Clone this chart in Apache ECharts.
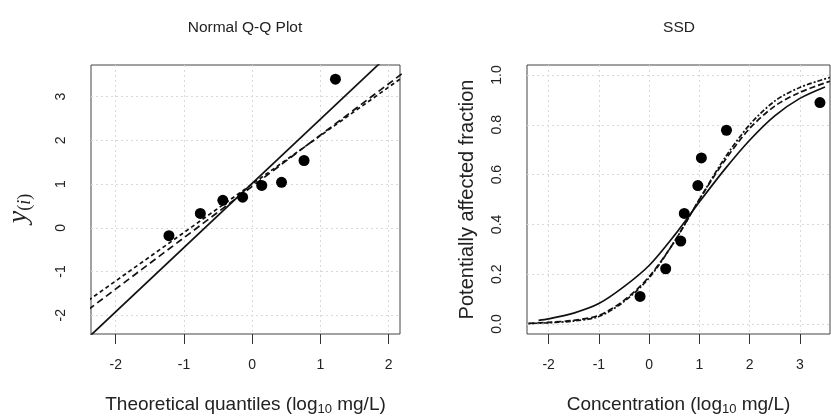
<!DOCTYPE html>
<html>
<head>
    <meta charset="UTF-8">
    <title>Q-Q and SSD</title>
    <script src="https://cdn.jsdelivr.net/npm/echarts/dist/echarts.min.js"></script>
    <style>
        html, body { margin: 0; padding: 0; background: #fff; }
        #chart { width: 831px; height: 417px; }
    </style>
</head>
<body>
<div id="chart"></div>
<script>
    // Q-Q panel data
    var theoQuantiles = [-1.22, -0.76, -0.43, -0.14, 0.14, 0.43, 0.76, 1.22];
    var observed = [-0.18, 0.33, 0.63, 0.70, 0.97, 1.04, 1.54, 3.40];
    // fitted lines, read at the two ends of the panel
    var lineEndsX = [-2.4, 2.2];
    var solidLineY = [-2.51, 4.25];
    var longDashLineY = [-1.87, 3.53];
    var shortDashLineY = [-1.66, 3.44];

    // SSD panel data
    var fraction = [0.111, 0.222, 0.333, 0.444, 0.556, 0.667, 0.778, 0.889];
    var solidCurveX = [-2.2, -2, -1.5, -1, -0.5, 0, 0.5, 1, 1.5, 2, 2.5, 3, 3.5];
    var solidCurveY = [0.015, 0.021, 0.044, 0.082, 0.15, 0.235, 0.355, 0.49, 0.62, 0.738, 0.836, 0.906, 0.952];
    var dashCurveX = [-2.4, -2, -1.5, -1, -0.5, 0, 0.5, 1, 1.5, 2, 2.5, 3, 3.6];
    var longDashCurveY = [0.003, 0.007, 0.015, 0.035, 0.095, 0.19, 0.33, 0.5, 0.655, 0.785, 0.875, 0.93, 0.975];
    var shortDashCurveY = [0.002, 0.005, 0.012, 0.03, 0.09, 0.185, 0.33, 0.5, 0.665, 0.8, 0.895, 0.95, 0.99];

    // tick labels
    var qqXTicks = [-2, -1, 0, 1, 2];
    var qqYTicks = [-2, -1, 0, 1, 2, 3];
    var ssdXTicks = [-2, -1, 0, 1, 2, 3];
    var ssdYTicks = [0, 0.2, 0.4, 0.6, 0.8, 1.0];

    function zip(xs, ys) {
        return xs.map(function (x, i) { return [x, ys[i]]; });
    }

    var FONT = 'Liberation Sans';
    var TXT = '#222';
    var gridLine = { show: true, lineStyle: { color: '#d9d9d9', type: [2, 3], width: 1 } };

    function xAxis(idx, min, max, ticks, name) {
        return {
            type: 'value', gridIndex: idx, min: min, max: max,
            axisLine: { show: false, onZero: false },
            axisTick: { show: true, length: 10, customValues: ticks, lineStyle: { color: '#333' } },
            axisLabel: { customValues: ticks, margin: 24, fontSize: 14, color: TXT, fontFamily: FONT },
            splitLine: gridLine,
            name: name, nameLocation: 'middle', nameGap: 60,
            nameTextStyle: {
                rich: {
                    n: { fontSize: 19, color: TXT, fontFamily: FONT, lineHeight: 22 },
                    s: { fontSize: 13, color: TXT, fontFamily: FONT, padding: [9, 0, 0, 0] }
                }
            }
        };
    }

    function yAxis(idx, min, max, ticks, fmt, name, gap, rich, pad) {
        return {
            type: 'value', gridIndex: idx, min: min, max: max,
            axisLine: { show: false, onZero: false },
            axisTick: { show: false, customValues: ticks },
            axisLabel: { customValues: ticks, rotate: 90, margin: 23, fontSize: 14, color: TXT, fontFamily: FONT, formatter: fmt },
            splitLine: gridLine,
            name: name, nameLocation: 'middle', nameRotate: 90, nameGap: gap,
            nameTextStyle: { rich: rich, padding: pad }
        };
    }

    function lineSeries(xi, data, dash, smooth) {
        return {
            type: 'line', xAxisIndex: xi, yAxisIndex: xi, data: data,
            showSymbol: false, smooth: smooth, clip: true,
            lineStyle: { color: '#111', width: 1.7, type: dash },
            silent: true, z: 3
        };
    }

    function pointSeries(xi, data) {
        return {
            type: 'scatter', xAxisIndex: xi, yAxisIndex: xi, data: data,
            symbol: 'circle', symbolSize: 11,
            itemStyle: { color: '#000', opacity: 1 }, z: 4
        };
    }

    var chart = echarts.init(document.getElementById('chart'), null, { renderer: 'canvas' });

    var titleStyle = { fontSize: 15.5, fontWeight: 'normal', color: TXT, fontFamily: FONT };

    var option = {
        animation: false,
        backgroundColor: '#fff',
        title: [
            { text: 'Normal Q-Q Plot', left: 245, top: 20, textAlign: 'center', padding: 0, textStyle: titleStyle },
            { text: 'SSD', left: 679, top: 20, textAlign: 'center', padding: 0, textStyle: titleStyle }
        ],
        grid: [
            { left: 91, right: 431, top: 65, bottom: 83, show: true, borderColor: '#444', borderWidth: 1,
              containLabel: false, outerBoundsMode: 'none' },
            { left: 527, right: 1, top: 65, bottom: 83, show: true, borderColor: '#444', borderWidth: 1,
              containLabel: false, outerBoundsMode: 'none' }
        ],
        xAxis: [
            xAxis(0, -2.362, 2.166, qqXTicks, '{n|Theoretical quantiles (log}{s|10}{n| mg/L)}'),
            xAxis(1, -2.43, 3.6, ssdXTicks, '{n|Concentration (log}{s|10}{n| mg/L)}')
        ],
        yAxis: [
            yAxis(0, -2.43, 3.725, qqYTicks, function (v) { return String(v); },
                '{y|y}{p|(}{i|i}{p|)}', 57, {
                    y: { fontSize: 28, fontStyle: 'italic', fontFamily: 'Liberation Serif', color: TXT },
                    p: { fontSize: 18, fontFamily: 'Liberation Serif', color: TXT, padding: [12, 0, 0, 0] },
                    i: { fontSize: 18, fontStyle: 'italic', fontFamily: 'Liberation Serif', color: TXT, padding: [12, 0, 0, 0] }
                }, [0, 18, 0, 0]),
            yAxis(1, -0.04, 1.04, ssdYTicks, function (v) { return v.toFixed(1); },
                '{n|Potentially affected fraction}', 50, {
                    n: { fontSize: 20, fontFamily: FONT, color: TXT }
                }, 0)
        ],
        series: [
            lineSeries(0, zip(lineEndsX, solidLineY), 'solid', false),
            lineSeries(0, zip(lineEndsX, longDashLineY), [7, 4], false),
            lineSeries(0, zip(lineEndsX, shortDashLineY), [4, 3], false),
            pointSeries(0, zip(theoQuantiles, observed)),
            lineSeries(1, zip(solidCurveX, solidCurveY), 'solid', 0.3),
            lineSeries(1, zip(dashCurveX, longDashCurveY), [6, 3], 0.3),
            lineSeries(1, zip(dashCurveX, shortDashCurveY), [2, 2, 5, 2], 0.3),
            pointSeries(1, zip(observed, fraction))
        ]
    };

    chart.setOption(option);
</script>
</body>
</html>
